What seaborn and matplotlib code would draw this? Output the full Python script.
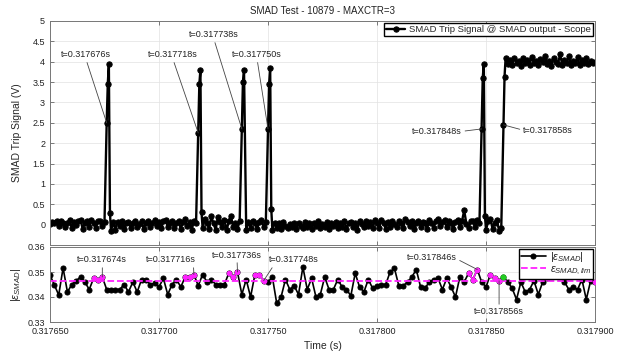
import numpy as np
import pandas as pd
import matplotlib
matplotlib.use("Agg")
import matplotlib.pyplot as plt
import seaborn as sns

# ---------------- data ----------------
t0 = 0.317650  # start time (s)

# SMAD trip signal, one sample per microsecond from t0 (V)
trip_v = [
    0.02, 0.06, 0.03, 0.09, -0.04, 0.10, 0.05, -0.06, 0.04, 0.12,
    -0.08, 0.07, -0.02, 0.09, 0.11, -0.10, 0.04, 0.08, -0.06, 0.12,
    0.03, -0.09, 0.08, 0.10, -0.04, 0.06, 2.50, 3.95, -0.15, 0.06,
    -0.12, 0.07, -0.04, 0.09, -0.10, 0.03, 0.06, -0.08, 0.04, 0.10,
    -0.06, 0.02, 0.08, -0.11, 0.05, 0.09, -0.07, 0.04, 0.11, -0.03,
    0.06, -0.09, 0.08, 0.12, -0.05, 0.03, 0.10, -0.08, 0.05, 0.09,
    -0.10, 0.07, 0.13, -0.04, 0.06, -0.12, 0.08, 0.04, 2.25, 3.80,
    -0.08, 0.15, 0.05, -0.10, 0.20, 0.03, -0.12, 0.18, 0.06, -0.05,
    0.12, -0.14, 0.08, 0.22, -0.06, 0.04, -0.10, 0.09, 2.35, 3.80,
    -0.12, 0.06, -0.08, 0.10, 0.04, -0.11, 0.07, 0.12, -0.05, 0.06,
    2.35, 3.85, -0.12, 0.05, -0.08, 0.03, -0.10, 0.06, -0.04, -0.09,
    0.02, -0.07, 0.04, -0.11, 0.05, -0.03, -0.09, 0.06, -0.06, 0.03,
    -0.10, 0.05, -0.04, 0.08, -0.08, 0.02, -0.06, 0.07, -0.11, 0.04,
    -0.03, 0.06, -0.09, 0.05, -0.05, 0.09, -0.10, 0.03, 0.07, -0.06,
    0.04, -0.12, 0.08, 0.02, -0.07, 0.10, -0.04, 0.06, -0.09, 0.11,
    0.03, -0.08, 0.12, 0.05, -0.10, 0.07, -0.05, 0.09, 0.02, -0.07,
    0.10, 0.04, -0.09, 0.13, 0.06, -0.04, 0.08, -0.11, 0.05, 0.10,
    -0.06, 0.07, 0.03, -0.10, 0.12, 0.05, -0.08, 0.09, 0.14, -0.04,
    0.06, 0.11, -0.07, 0.08, 0.04, -0.10, 0.07, 0.12, -0.05, 0.09,
    0.35, 0.02, -0.09, 0.08, 0.10, -0.06, 0.12, 0.04, 2.35, 3.95,
    -0.12, 0.08, 0.15, -0.10, 0.05, 0.12, -0.15, -0.08, 2.45, 4.10,
    3.95, 4.05, 3.92, 4.10, 3.98, 4.02, 3.90, 4.08, 3.96, 4.04,
    3.93, 4.12, 3.97, 4.01, 3.91, 4.06, 3.99, 4.15, 3.94, 4.03,
    3.89, 4.09, 4.00, 3.95, 4.18, 3.92, 4.05, 3.97, 4.14, 3.93,
    4.02, 3.96, 4.11, 3.91, 4.04, 3.98, 4.08, 3.94, 4.03, 3.97,
    4.00,
]
# extra half-microsecond samples on the edges (offset in us, value V)
extra_t = [26.5, 27.5, 68.5, 69.5, 88.5, 100.5, 101.5, 198.5, 199.5, 208.5]
extra_v = [3.45, 0.28, 3.45, 0.30, 3.50, 3.45, 0.38, 3.60, 0.22, 3.63]

# |eps_SMAD|, one sample every 2 us from t0
eps_v = [
    0.3488, 0.3448, 0.3408, 0.3516, 0.3420, 0.3450, 0.3465, 0.3480, 0.3460, 0.3430,
    0.3475, 0.3470, 0.3480, 0.3430, 0.3430, 0.3430, 0.3430, 0.3450, 0.3420, 0.3460,
    0.3420, 0.3470, 0.3470, 0.3450, 0.3455, 0.3440, 0.3475, 0.3410, 0.3450, 0.3470,
    0.3440, 0.3480, 0.3480, 0.3490, 0.3445, 0.3490, 0.3460, 0.3470, 0.3450, 0.3450,
    0.3450, 0.3495, 0.3480, 0.3500, 0.3410, 0.3470, 0.3400, 0.3490, 0.3490, 0.3465,
    0.3460, 0.3480, 0.3375, 0.3400, 0.3470, 0.3430, 0.3445, 0.3410, 0.3520, 0.3430,
    0.3475, 0.3400, 0.3410, 0.3480, 0.3430, 0.3430, 0.3470, 0.3440, 0.3430, 0.3405,
    0.3495, 0.3440, 0.3420, 0.3470, 0.3435, 0.3445, 0.3450, 0.3450, 0.3500, 0.3515,
    0.3445, 0.3445, 0.3460, 0.3480, 0.3510, 0.3440, 0.3435, 0.3460, 0.3470, 0.3475,
    0.3430, 0.3475, 0.3440, 0.3400, 0.3480, 0.3460, 0.3495, 0.3470, 0.3510, 0.3460,
    0.3440, 0.3490, 0.3475, 0.3465, 0.3480, 0.3460, 0.3435, 0.3390, 0.3460, 0.3420,
    0.3430, 0.3465, 0.3410, 0.3460, 0.3475, 0.3520, 0.3530, 0.3510, 0.3460, 0.3430,
    0.3440, 0.3430, 0.3470, 0.3390, 0.3465, 0.3460,
]
eps_step_us = 2
eps_exceed_k = [10, 11, 12, 31, 32, 33, 41, 42, 43, 47, 48, 49,
                96, 97, 98, 101, 102, 103, 114, 115, 116, 117, 125]
eps_trip_k = [104]
eps_lim = 0.3465

top_note_labels = ["t=0.317676s", "t=0.317718s", "t=0.317738s",
                   "t=0.317750s", "t=0.317848s", "t=0.317858s"]
top_note_k = [26, 68, 88, 100, 198, 208]
bot_note_labels = ["t=0.317674s", "t=0.317716s", "t=0.317736s",
                   "t=0.317748s", "t=0.317846s", "t=0.317856s"]
bot_note_k = [12, 33, 43, 49, 98, 103]

x_ticks = [0.317650, 0.317700, 0.317750, 0.317800, 0.317850, 0.317900]
x_tick_labels = ["0.317650", "0.317700", "0.317750", "0.317800", "0.317850", "0.317900"]
y_ticks_top = [0, 0.5, 1, 1.5, 2, 2.5, 3, 3.5, 4, 4.5, 5]
y_tick_labels_top = ["0", "0.5", "1", "1.5", "2", "2.5", "3", "3.5", "4", "4.5", "5"]
y_ticks_bot = [0.33, 0.34, 0.35, 0.36]
y_tick_labels_bot = ["0.33", "0.34", "0.35", "0.36"]

# ---------------- tables ----------------
us = 1e-6
top_off = np.concatenate([np.arange(len(trip_v), dtype=float), np.array(extra_t)])
top_val = np.concatenate([np.array(trip_v), np.array(extra_v)])
df_top = pd.DataFrame({"t": t0 + top_off * us, "v": top_val}).sort_values("t")

eps_k = np.arange(len(eps_v))
df_eps = pd.DataFrame({"t": t0 + eps_k * eps_step_us * us, "v": eps_v})
ex = np.array(eps_exceed_k)
grp = np.concatenate([[0], np.cumsum(np.diff(ex) != 1)])
df_mag = pd.DataFrame({"t": df_eps["t"].values[ex], "v": np.array(eps_v)[ex], "g": grp})
df_trip = df_eps.iloc[eps_trip_k]

# ---------------- style ----------------
sns.set_style("ticks")
plt.rcParams["font.family"] = ["Liberation Sans", "DejaVu Sans"]
plt.rcParams["mathtext.fontset"] = "custom"
plt.rcParams["mathtext.rm"] = "Liberation Sans"
plt.rcParams["mathtext.it"] = "Liberation Sans:italic"
plt.rcParams["mathtext.bf"] = "Liberation Sans:bold"

W, H = 635, 352
fig = plt.figure(figsize=(W / 100, H / 100), dpi=100)
ax1 = fig.add_axes([50 / W, 1 - 245 / H, 545 / W, 224 / H])
ax2 = fig.add_axes([50 / W, 1 - 322 / H, 545 / W, 75 / H], sharex=ax1)

# ---------------- top panel ----------------
sns.lineplot(data=df_top, x="t", y="v", ax=ax1, color="black", lw=1.7,
             marker="o", markersize=3.8, markeredgecolor="black",
             estimator=None, label="SMAD Trip Signal @ SMAD output - Scope")
ax1.set_ylim(-0.5, 5)
ax1.set_yticks(y_ticks_top, y_tick_labels_top)
ax1.set_xlabel("")
ax1.set_ylabel("SMAD Trip Signal (V)", fontsize=7.5, labelpad=8)
ax1.set_title("SMAD Test - 10879 - MAXCTR=3", fontsize=7, pad=5, color="#222222")
ax1.tick_params(labelbottom=False)
ax1.legend(loc="upper right", fontsize=6.8, fancybox=False, edgecolor="black",
           framealpha=1, borderaxespad=0.25, borderpad=0.2, handlelength=2.0,
           handletextpad=0.4)

top_text_pos = [(16.5, 4.17), (56.4, 4.17), (75.2, 4.66), (95.0, 4.17), (177.5, 2.29), (228.4, 2.32)]
top_relpos = [(0.5, 0), (0.5, 0), (0.5, 0), (0.5, 0), (1, 0.5), (0, 0.5)]
for lab, k, (tx, ty), rp in zip(top_note_labels, top_note_k, top_text_pos, top_relpos):
    ax1.annotate(lab, xy=(t0 + k * us, trip_v[k]), xytext=(t0 + tx * us, ty),
                 ha="center", va="center", fontsize=6.5, color="#222222",
                 arrowprops=dict(arrowstyle="-", color="#444444", lw=0.6,
                                 relpos=rp, shrinkA=0, shrinkB=0))

# ---------------- bottom panel ----------------
ax2.axhline(eps_lim, color="#ff22ff", ls="--", lw=1.3, zorder=2.5,
            label=r"$\varepsilon_{SMAD,lim}$")
sns.lineplot(data=df_eps, x="t", y="v", ax=ax2, color="black", lw=1.2,
             marker="o", markersize=3.6, markeredgecolor="black",
             estimator=None, label=r"$|\varepsilon_{SMAD}|$", zorder=2)
sns.lineplot(data=df_mag, x="t", y="v", units="g", ax=ax2, color="#ff22ff", lw=1.2,
             marker="o", markersize=3.2, markeredgecolor="#ff22ff",
             estimator=None, legend=False, zorder=3)
sns.scatterplot(data=df_trip, x="t", y="v", ax=ax2, color="#22cc22", s=16,
                edgecolor="#22cc22", zorder=4, legend=False)
ax2.set_ylim(0.33, 0.36)
ax2.set_yticks(y_ticks_bot, y_tick_labels_bot)
ax2.set_xlim(x_ticks[0], x_ticks[-1])
ax2.set_xticks(x_ticks, x_tick_labels)
ax2.set_xlabel("Time (s)", fontsize=7.5, labelpad=4)
ax2.set_ylabel(r"$|\varepsilon_{SMAD}|$", fontsize=8, labelpad=3)
h, l = ax2.get_legend_handles_labels()
order = [l.index(r"$|\varepsilon_{SMAD}|$"), l.index(r"$\varepsilon_{SMAD,lim}$")]
leg2 = ax2.legend([h[i] for i in order], [l[i] for i in order], loc="upper right",
                  fontsize=7.8, fancybox=False, edgecolor="black", framealpha=1,
                  borderaxespad=0.15, borderpad=0.15, handlelength=2.3,
                  labelspacing=0.0, handletextpad=0.4)
leg2.set_zorder(10)

bot_text_pos = [(24.0, 0.3548), (55.5, 0.3548), (85.8, 0.3568), (112.0, 0.3548), (175.0, 0.3560), (206.0, 0.3340)]
bot_relpos = [(0.5, 0), (0.95, 0), (0.5, 0), (0.1, 0), (1, 0.3), (0.5, 1)]
for lab, k, (tx, ty), rp in zip(bot_note_labels, bot_note_k, bot_text_pos, bot_relpos):
    ax2.annotate(lab, xy=(t0 + k * eps_step_us * us, eps_v[k]), xytext=(t0 + tx * us, ty),
                 ha="center", va="center", fontsize=6.5, color="#222222",
                 arrowprops=dict(arrowstyle="-", color="#444444", lw=0.6,
                                 relpos=rp, shrinkA=0, shrinkB=0), zorder=6)

for ax in (ax1, ax2):
    ax.grid(True, color="#e2e2e2", lw=0.5)
    ax.set_axisbelow(True)
    ax.tick_params(direction="in", length=3, width=0.6, labelsize=6.5,
                   top=True, right=True, color="#666666", labelcolor="#222222")
    for s in ax.spines.values():
        s.set_visible(True)
        s.set_color("#777777")
        s.set_linewidth(0.7)

fig.savefig("out.png", dpi=100)
